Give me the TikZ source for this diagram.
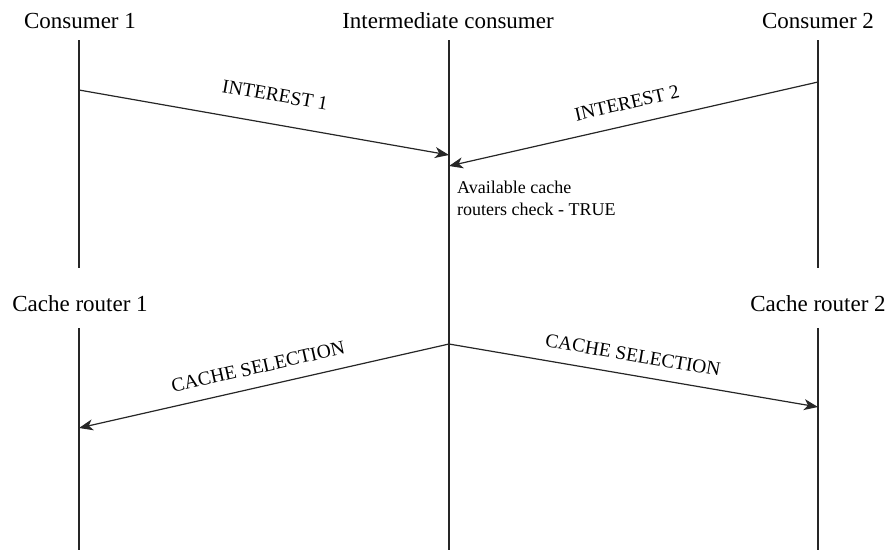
\documentclass[tikz,border=0pt]{standalone}
\usepackage{fontspec}
\setmainfont{Liberation Serif}
\usetikzlibrary{arrows.meta}
\begin{document}
\begin{tikzpicture}[x=1pt,y=-1pt,
  lifeline/.style={line width=2pt,black!85},
  msg/.style={line width=1.2pt,black!85,-{Stealth[length=14pt,width=11pt,inset=4pt]}},
  actor/.style={font=\fontsize{23}{26}\selectfont,inner sep=0pt},
  msglabel/.style={font=\fontsize{19.5}{22}\selectfont,inner sep=0pt},
  note/.style={font=\fontsize{18}{22}\selectfont,align=left,inner sep=0pt,anchor=north west}]
\useasboundingbox (0,0) rectangle (892,550);
% participants
\node[actor] (c1) at (80,21) {Consumer 1};
\node[actor] (ic) at (448,21) {Intermediate consumer};
\node[actor] (c2) at (818,21) {Consumer 2};
\node[actor] (r1) at (80,304) {Cache router 1};
\node[actor] (r2) at (818,304) {Cache router 2};
% lifeline end points
\coordinate (c1t) at (79,40);  \coordinate (c1b) at (79,268);
\coordinate (c2t) at (818,40); \coordinate (c2b) at (818,268);
\coordinate (ict) at (449,40); \coordinate (icb) at (449,550);
\coordinate (r1t) at (79,328); \coordinate (r1b) at (79,550);
\coordinate (r2t) at (818,328); \coordinate (r2b) at (818,550);
\draw[lifeline] (c1t) -- (c1b);
\draw[lifeline] (c2t) -- (c2b);
\draw[lifeline] (ict) -- (icb);
\draw[lifeline] (r1t) -- (r1b);
\draw[lifeline] (r2t) -- (r2b);
% message points
\coordinate (m1s) at (79,90);   \coordinate (m1e) at (449,155);
\coordinate (m2s) at (818,82);  \coordinate (m2e) at (449,166);
\coordinate (sel) at (449,344);
\coordinate (m3e) at (79,428);  \coordinate (m4e) at (818,407);
\draw[msg] (m1s) -- (m1e);
\draw[msg] (m2s) -- (m2e);
\draw[msg] (sel) -- (m3e);
\draw[msg] (sel) -- (m4e);
% message labels
\node[msglabel,rotate=-10] (l1) at (275,95) {INTEREST 1};
\node[msglabel,rotate=12.8] (l2) at (627,103) {INTEREST 2};
\node[msglabel,rotate=12.8] (l3) at (258,367) {CACHE SELECTION};
\node[msglabel,rotate=-9.7] (l4) at (633,355) {CACHE SELECTION};
\node[note] (chk) at (457,181) {Available cache\\routers check - TRUE};
\end{tikzpicture}
\end{document}
